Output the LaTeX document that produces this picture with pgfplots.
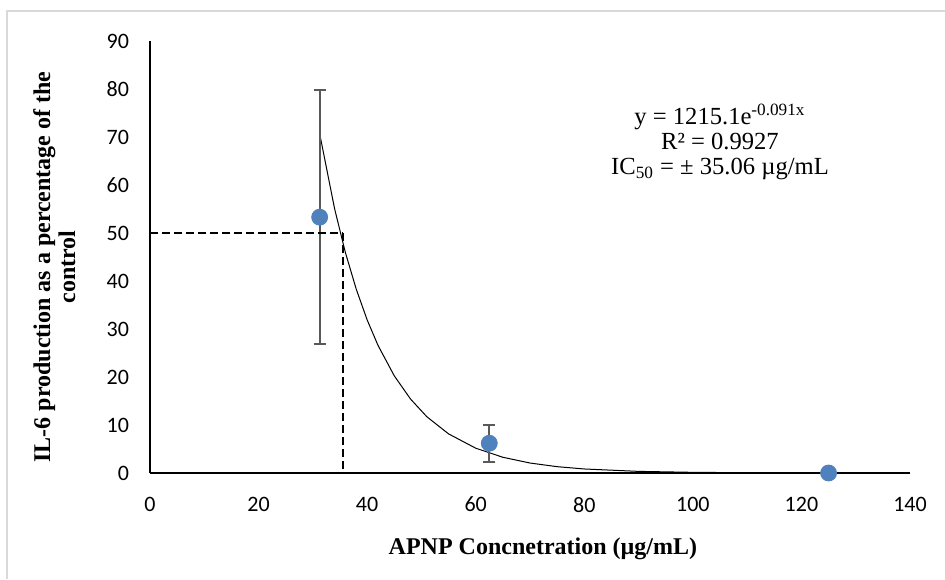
\documentclass[border=0pt]{standalone}
\usepackage{pgfplots}
\pgfplotsset{compat=1.18}
\usepackage{fontspec}
\setmainfont{Liberation Serif}
\newfontfamily\calibri{Carlito}
\definecolor{ptblue}{RGB}{79,129,189}
\definecolor{errgray}{RGB}{89,89,89}
\definecolor{framegray}{RGB}{217,217,217}

\begin{document}
\begin{tikzpicture}
  % picture is 945x579 px at 0.5pt per px
  \path[use as bounding box] (0,0) rectangle (472.5pt,289.5pt);
  \draw[framegray, line width=1pt] (3.5pt,0) -- (3.5pt,284pt) -- (472.5pt,284pt);
  \begin{axis}[
      at={(75pt,53pt)}, anchor=south west,
      scale only axis,
      width=380pt, height=216pt,
      xmin=0, xmax=140, ymin=0, ymax=90,
      xtick={0,20,...,140}, ytick={0,10,...,90},
      axis x line*=bottom, axis y line*=left,
      axis line style={-, black, line width=0.8pt},
      major tick length=0pt,
      /pgf/number format/assume math mode=true,
      tick label style={font=\calibri\fontsize{11}{13}\selectfont},
      yticklabel style={xshift=-7pt},
      xticklabel style={yshift=-8.5pt},
      xlabel={APNP Concnetration (µg/mL)},
      xlabel style={at={(axis description cs:0.517,-0.176)}, anchor=center,
                    font=\fontsize{12}{14}\selectfont\bfseries},
      ylabel={IL-6 production as a percentage of the\\control},
      ylabel style={at={(axis description cs:-0.126,0.477)}, anchor=center,
                    align=center, font=\fontsize{12}{12.5}\selectfont\bfseries},
      clip=false,
    ]
    % exponential trend line y = 1215.1 e^{-0.091x}
    \addplot[black, line width=0.5pt, mark=none] coordinates {
      (31.25,70.73) (34,55.07) (36,45.90) (38,38.27) (40,31.90) (42,26.59)
      (45,20.24) (48,15.40) (51,11.72) (55,8.15) (60,5.17) (65,3.28)
      (70,2.08) (75,1.32) (80,0.84) (90,0.34) (100,0.14) (110,0.06) (125,0.01)
    };
    % data with error bars
    \addplot[only marks, mark=*, mark size=4pt, color=ptblue,
      error bars/.cd, y dir=both, y explicit,
      error bar style={errgray, line width=1pt},
      error mark options={errgray, line width=1pt, rotate=90, mark size=3pt}]
      coordinates {
        (31.25,53.3) +- (0,26.4)
        (62.5,6.2) +- (0,3.9)
        (125,0) +- (0,0)
      };
    % IC50 guide lines
    \addplot[black, line width=1pt, dash pattern=on 4pt off 2pt] coordinates {(0,50) (35.5,50)};
    \addplot[black, line width=1pt, dash pattern=on 4pt off 2pt] coordinates {(35.5,50) (35.5,0)};
    \node[align=center, font=\fontsize{12.3}{12.6}\selectfont] at (axis cs:105,69)
      {y = 1215.1e\textsuperscript{-0.091x}\\R² = 0.9927\\IC\textsubscript{50} = ± 35.06 µg/mL};
  \end{axis}
\end{tikzpicture}
\end{document}
